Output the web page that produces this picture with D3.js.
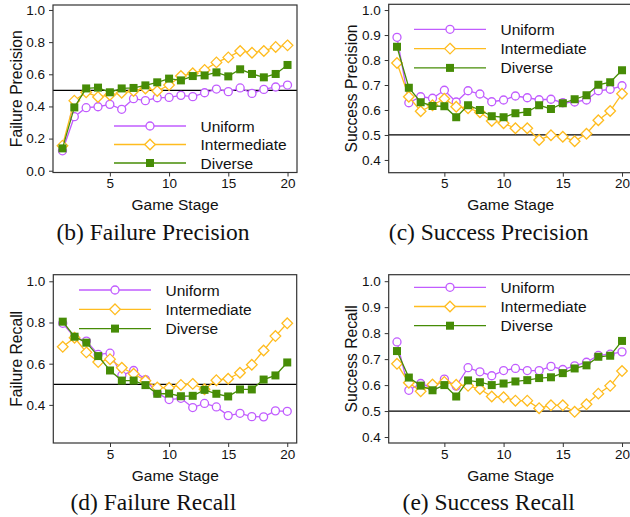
<!DOCTYPE html>
<html>
<head>
<meta charset="utf-8">
<script src="https://cdn.jsdelivr.net/npm/d3@7"></script>
<style>
body { margin: 0; background: #fff; }
svg { display: block; }
text { font-family: "Liberation Sans", Arial, sans-serif; fill: #111; }
.caption { font-family: "Liberation Serif", "Times New Roman", serif; }
</style>
</head>
<body>
<svg id="chart" width="630" height="517"></svg>
<script>
var stages = [1, 2, 3, 4, 5, 6, 7, 8, 9, 10, 11, 12, 13, 14, 15, 16, 17, 18, 19, 20];
var seriesNames = ["Uniform", "Intermediate", "Diverse"];
var xTicks = [5, 10, 15, 20];

// (b) failure precision
var failPrecUniform = [0.124, 0.336, 0.392, 0.398, 0.413, 0.382, 0.448, 0.436, 0.454, 0.456, 0.469, 0.461, 0.485, 0.508, 0.492, 0.515, 0.481, 0.506, 0.521, 0.533];
var failPrecIntermediate = [0.156, 0.436, 0.488, 0.459, 0.471, 0.485, 0.496, 0.512, 0.496, 0.533, 0.589, 0.606, 0.627, 0.674, 0.705, 0.745, 0.734, 0.745, 0.770, 0.780];
var failPrecDiverse = [0.139, 0.394, 0.512, 0.517, 0.488, 0.512, 0.515, 0.531, 0.550, 0.573, 0.562, 0.589, 0.593, 0.612, 0.587, 0.631, 0.602, 0.581, 0.602, 0.658];

// (c) success precision
var succPrecUniform = [0.891, 0.629, 0.653, 0.647, 0.679, 0.632, 0.677, 0.664, 0.633, 0.640, 0.656, 0.649, 0.641, 0.643, 0.629, 0.632, 0.640, 0.677, 0.683, 0.697];
var succPrecIntermediate = [0.788, 0.653, 0.595, 0.619, 0.645, 0.613, 0.607, 0.591, 0.556, 0.547, 0.527, 0.527, 0.480, 0.499, 0.493, 0.475, 0.505, 0.559, 0.596, 0.665];
var succPrecDiverse = [0.853, 0.689, 0.631, 0.616, 0.615, 0.571, 0.619, 0.600, 0.575, 0.571, 0.587, 0.592, 0.619, 0.604, 0.627, 0.643, 0.659, 0.701, 0.711, 0.759];

// (d) failure recall
var failRecUniform = [0.796, 0.728, 0.710, 0.645, 0.651, 0.543, 0.567, 0.523, 0.457, 0.426, 0.432, 0.387, 0.407, 0.390, 0.348, 0.359, 0.343, 0.342, 0.371, 0.369];
var failRecIntermediate = [0.682, 0.726, 0.655, 0.608, 0.622, 0.580, 0.551, 0.517, 0.484, 0.483, 0.497, 0.502, 0.476, 0.520, 0.527, 0.556, 0.595, 0.664, 0.734, 0.796];
var failRecDiverse = [0.804, 0.731, 0.702, 0.637, 0.567, 0.518, 0.518, 0.496, 0.454, 0.455, 0.442, 0.444, 0.473, 0.454, 0.441, 0.475, 0.475, 0.523, 0.543, 0.606];

// (e) success recall
var succRecUniform = [0.766, 0.580, 0.606, 0.589, 0.623, 0.596, 0.667, 0.651, 0.636, 0.656, 0.664, 0.656, 0.656, 0.672, 0.660, 0.674, 0.688, 0.714, 0.719, 0.728];
var succRecIntermediate = [0.682, 0.609, 0.576, 0.602, 0.612, 0.601, 0.597, 0.585, 0.556, 0.553, 0.540, 0.540, 0.511, 0.522, 0.522, 0.497, 0.526, 0.567, 0.597, 0.654];
var succRecDiverse = [0.731, 0.629, 0.598, 0.580, 0.600, 0.556, 0.618, 0.611, 0.600, 0.606, 0.614, 0.619, 0.627, 0.630, 0.646, 0.664, 0.676, 0.709, 0.713, 0.770];

var colors = ["#c15cff", "#ffbc1f", "#468c06"];
var shapes = ["circle", "diamond", "square"];

var svg = d3.select("#chart");

var panels = [
    {
        ylabel: "Failure Precision", caption: "(b) Failure Precision",
        box: {left: 53, right: 297, top: 5, bottom: 172.5},
        xDomain: [0.2, 20.8], yDomain: [-0.011, 1.031],
        yTicks: [0, 0.2, 0.4, 0.6, 0.8, 1.0],
        values: [failPrecUniform, failPrecIntermediate, failPrecDiverse],
        legend: {x: 114, y: 126, gap: 18.5},
        captionY: 239.5
    },
    {
        ylabel: "Success Precision", caption: "(c) Success Precision",
        box: {left: 388.7, right: 631.5, top: 4.3, bottom: 172.7},
        xDomain: [0.3, 20.8], yDomain: [0.349, 1.023],
        yTicks: [0.4, 0.5, 0.6, 0.7, 0.8, 0.9, 1.0],
        values: [succPrecUniform, succPrecIntermediate, succPrecDiverse],
        legend: {x: 414, y: 29.3, gap: 19.3},
        captionY: 239.5
    },
    {
        ylabel: "Failure Recall", caption: "(d) Failure Recall",
        box: {left: 53.3, right: 296.7, top: 274.7, bottom: 443},
        xDomain: [0.2, 20.8], yDomain: [0.215, 1.032],
        yTicks: [0.4, 0.6, 0.8, 1.0],
        values: [failRecUniform, failRecIntermediate, failRecDiverse],
        legend: {x: 79, y: 290, gap: 19.3},
        captionY: 510
    },
    {
        ylabel: "Success Recall", caption: "(e) Success Recall",
        box: {left: 388.7, right: 631.5, top: 274.7, bottom: 443},
        xDomain: [0.3, 20.8], yDomain: [0.377, 1.025],
        yTicks: [0.4, 0.5, 0.6, 0.7, 0.8, 0.9, 1.0],
        values: [succRecUniform, succRecIntermediate, succRecDiverse],
        legend: {x: 414, y: 287.3, gap: 19.2},
        captionY: 510
    }
];

function drawMarker(g, shape, color, cx, cy) {
    if (shape === "circle") {
        g.append("circle").attr("cx", cx).attr("cy", cy).attr("r", 4)
            .attr("fill", "#fff").attr("stroke", color).attr("stroke-width", 1.3);
    } else if (shape === "diamond") {
        g.append("path")
            .attr("d", "M" + cx + "," + (cy - 5.3) + "L" + (cx + 5.3) + "," + cy + "L" + cx + "," + (cy + 5.3) + "L" + (cx - 5.3) + "," + cy + "Z")
            .attr("fill", "#fff").attr("stroke", color).attr("stroke-width", 1.3);
    } else {
        g.append("rect").attr("x", cx - 4).attr("y", cy - 4).attr("width", 8).attr("height", 8)
            .attr("fill", color);
    }
}

panels.forEach(function(p) {
    var b = p.box;
    var x = d3.scaleLinear().domain(p.xDomain).range([b.left, b.right]);
    var y = d3.scaleLinear().domain(p.yDomain).range([b.bottom, b.top]);
    var g = svg.append("g");

    // reference line at 0.5
    g.append("line")
        .attr("x1", b.left).attr("x2", b.right)
        .attr("y1", y(0.5)).attr("y2", y(0.5))
        .attr("stroke", "#000").attr("stroke-width", 1.2);

    var line = d3.line().x(function(d, i) { return x(stages[i]); }).y(function(d) { return y(d); });

    p.values.forEach(function(vals, si) {
        g.append("path").datum(vals)
            .attr("d", line)
            .attr("fill", "none")
            .attr("stroke", colors[si])
            .attr("stroke-width", 1.3);
        vals.forEach(function(v, i) {
            drawMarker(g, shapes[si], colors[si], x(stages[i]), y(v));
        });
    });

    // frame
    g.append("rect")
        .attr("x", b.left).attr("y", b.top)
        .attr("width", b.right - b.left).attr("height", b.bottom - b.top)
        .attr("fill", "none").attr("stroke", "#333").attr("stroke-width", 1.2);

    var yAxis = g.append("g")
        .attr("transform", "translate(" + b.left + ",0)")
        .call(d3.axisLeft(y).tickValues(p.yTicks).tickFormat(d3.format(".1f")).tickSize(4).tickPadding(4));
    var xAxis = g.append("g")
        .attr("transform", "translate(0," + b.bottom + ")")
        .call(d3.axisBottom(x).tickValues(xTicks).tickSize(4).tickPadding(2));
    [yAxis, xAxis].forEach(function(a) {
        a.select(".domain").remove();
        a.selectAll("line").attr("stroke", "#333");
        a.selectAll("text").style("font-size", "13.5px").attr("fill", "#111")
            .style("font-family", "'Liberation Sans', Arial, sans-serif");
    });

    g.append("text")
        .attr("transform", "translate(" + (b.left - 37) + "," + ((b.top + b.bottom) / 2) + ") rotate(-90)")
        .attr("text-anchor", "middle")
        .attr("dy", "0.35em")
        .style("font-size", "15.7px")
        .text(p.ylabel);

    g.append("text")
        .attr("x", b.left + 122)
        .attr("y", b.bottom + 37.5)
        .attr("text-anchor", "middle")
        .style("font-size", "15.5px")
        .text("Game Stage");

    g.append("text")
        .attr("class", "caption")
        .attr("x", b.left + 100)
        .attr("y", p.captionY)
        .attr("text-anchor", "middle")
        .style("font-size", "23.5px")
        .text(p.caption);

    // legend
    var L = p.legend;
    seriesNames.forEach(function(name, si) {
        var ly = L.y + si * L.gap;
        g.append("line")
            .attr("x1", L.x).attr("x2", L.x + 72)
            .attr("y1", ly).attr("y2", ly)
            .attr("stroke", colors[si]).attr("stroke-width", 1.3);
        drawMarker(g, shapes[si], colors[si], L.x + 36, ly);
        g.append("text")
            .attr("x", L.x + 86.5)
            .attr("y", ly)
            .attr("dy", "0.36em")
            .style("font-size", "15.5px")
            .text(name);
    });
});
</script>
</body>
</html>
